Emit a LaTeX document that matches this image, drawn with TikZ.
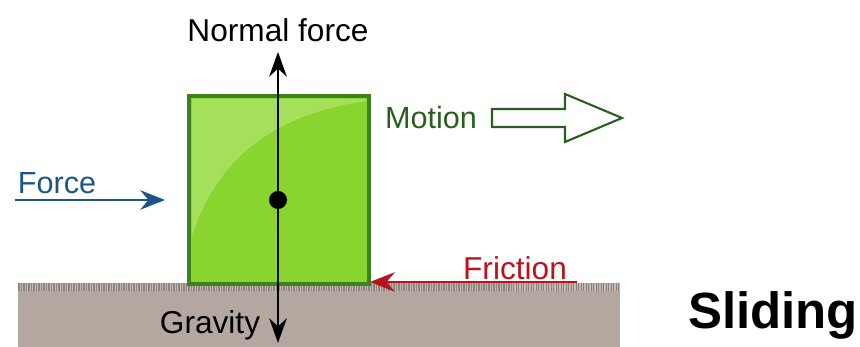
\documentclass[tikz,border=0pt]{standalone}
\usepackage{fontspec}
\setmainfont{Liberation Sans}
\usetikzlibrary{arrows.meta,positioning}
\definecolor{blockgreen}{RGB}{138,212,48}
\definecolor{blocklight}{RGB}{164,224,90}
\definecolor{blockedge}{RGB}{60,130,30}
\definecolor{motiongreen}{RGB}{40,95,30}
\definecolor{groundgray}{RGB}{180,167,160}
\definecolor{hatchgray}{RGB}{140,132,126}
\definecolor{forceblue}{RGB}{30,85,135}
\definecolor{frictionred}{RGB}{185,20,30}

\begin{document}
\begin{tikzpicture}
  \useasboundingbox (0,0) rectangle (8.6,3.47);
  % Ground with hatched top
  \fill[groundgray] (0.18,0) rectangle (6.2,0.64);
  \fill[groundgray!80!white] (0.18,0.56) rectangle (6.2,0.64);
  \foreach \x in {0.19,0.215,...,6.19}
    \draw[hatchgray,line width=0.35pt] (\x,0.56) -- (\x,0.64);
  % Block with light sheen
  \node[draw=blockedge,line width=0.8pt,fill=blockgreen,minimum width=1.78cm,minimum height=1.86cm,inner sep=0pt] (block) at (2.79,1.57) {};
  \begin{scope}
    \clip (1.92,0.66) rectangle (3.66,2.48);
    \fill[blocklight] (1.92,1.1) .. controls (2.15,1.85) and (2.7,2.32) .. (3.66,2.46) -- (3.66,2.48) -- (1.92,2.48) -- cycle;
  \end{scope}
  \draw[blockedge,line width=0.8pt] (block.south west) rectangle (block.north east);
  % Normal force and gravity
  \node[font=\fontsize{9}{10}\selectfont] (normal) at (2.78,3.17) {Normal force};
  \coordinate (top) at (2.78,2.95);
  \coordinate (bottom) at (2.78,0.04);
  \fill[black] (2.78,1.47) circle (0.09) coordinate (centre);
  \draw[-{Stealth[length=7pt,width=5pt]},line width=0.8pt] (centre) -- (top);
  \draw[-{Stealth[length=7pt,width=5pt]},line width=0.8pt] (centre) -- (bottom);
  \node[font=\fontsize{9}{10}\selectfont] (gravity) at (2.1,0.22) {Gravity};
  % Motion
  \node[font=\fontsize{8.7}{10}\selectfont,motiongreen] (motion) at (4.31,2.29) {Motion};
  \draw[motiongreen,line width=0.6pt,fill=white,line join=miter]
    (4.92,2.20) -- (5.65,2.20) -- (5.65,2.05) -- (6.22,2.29) -- (5.65,2.53) -- (5.65,2.38) -- (4.92,2.38) -- cycle;
  % Applied force
  \node[font=\fontsize{8.7}{10}\selectfont,forceblue] (force) at (0.57,1.64) {Force};
  \coordinate (forcestart) at (0.15,1.47);
  \coordinate (forceend) at (1.65,1.47);
  \draw[-{Stealth[length=7pt,width=5.5pt]},forceblue,line width=0.8pt] (forcestart) -- (forceend);
  % Friction
  \node[font=\fontsize{9}{10}\selectfont,frictionred] (friction) at (5.15,0.79) {Friction};
  \coordinate (frictionstart) at (5.77,0.65);
  \coordinate (frictionend) at (3.70,0.65);
  \draw[-{Stealth[length=7pt,width=5.5pt]},frictionred,line width=0.8pt] (frictionstart) -- (frictionend);
  % Title
  \node[font=\fontsize{14.5}{16}\selectfont\bfseries] (title) at (7.73,0.32) {Sliding};
\end{tikzpicture}
\end{document}
